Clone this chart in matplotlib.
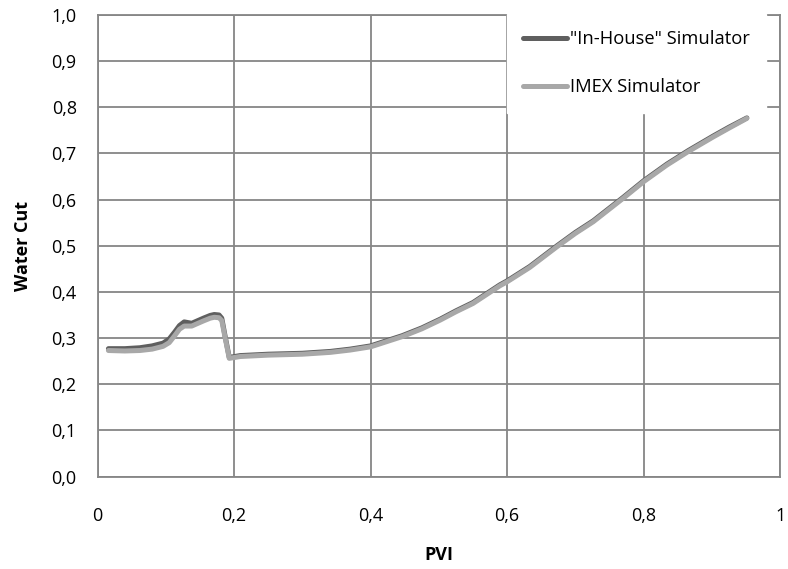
import matplotlib

matplotlib.use("Agg")
import matplotlib.pyplot as plt
from matplotlib.ticker import FuncFormatter

plt.rcParams["font.family"] = ["Open Sans", "DejaVu Sans"]

# PVI / water cut
pvi = [0.016, 0.04, 0.062, 0.08, 0.096, 0.105, 0.113, 0.12, 0.127, 0.138,
       0.155, 0.165, 0.171, 0.178, 0.182, 0.187, 0.193, 0.209, 0.25, 0.3,
       0.341, 0.37, 0.4, 0.446, 0.475, 0.502, 0.525, 0.55, 0.589, 0.6,
       0.633, 0.673, 0.7, 0.726, 0.77, 0.8, 0.834, 0.865, 0.902, 0.925, 0.951]
wc_inhouse = [0.277, 0.277, 0.279, 0.283, 0.289, 0.298, 0.313, 0.327, 0.335, 0.332,
              0.343, 0.349, 0.351, 0.35, 0.343, 0.303, 0.258, 0.262, 0.265, 0.267,
              0.271, 0.276, 0.283, 0.305, 0.322, 0.341, 0.359, 0.377, 0.415, 0.424,
              0.455, 0.5, 0.529, 0.554, 0.605, 0.641, 0.677, 0.706, 0.738, 0.757, 0.777]
wc_imex = [0.273, 0.272, 0.273, 0.276, 0.282, 0.29, 0.305, 0.319, 0.326, 0.326,
           0.337, 0.343, 0.345, 0.344, 0.338, 0.3, 0.256, 0.26, 0.263, 0.265,
           0.269, 0.274, 0.281, 0.303, 0.32, 0.339, 0.357, 0.375, 0.413, 0.422,
           0.453, 0.498, 0.527, 0.552, 0.603, 0.639, 0.675, 0.704, 0.736, 0.755, 0.776]

xticks = [0, 0.2, 0.4, 0.6, 0.8, 1.0]
yticks = [0.0, 0.1, 0.2, 0.3, 0.4, 0.5, 0.6, 0.7, 0.8, 0.9, 1.0]

grid_color = "#868686"

fig = plt.figure(figsize=(7.88, 5.69), dpi=100)
ax = fig.add_axes([97.5 / 788, (569 - 476.5) / 569, 682.8 / 788, 461.5 / 569])

ax.plot(pvi, wc_inhouse, color="#5f5f5f", lw=3.6, label='"In-House" Simulator',
        solid_capstyle="round", solid_joinstyle="round", zorder=3)
ax.plot(pvi, wc_imex, color="#a8a8a8", lw=3.6, label="IMEX Simulator",
        solid_capstyle="round", solid_joinstyle="round", zorder=4)

ax.set_xlim(0, 1)
ax.set_ylim(0, 1)
ax.set_xticks(xticks)
ax.set_yticks(yticks)
ax.xaxis.set_major_formatter(FuncFormatter(
    lambda v, p: "0" if v == 0 else ("1" if v == 1 else f"{v:.1f}".replace(".", ","))))
ax.yaxis.set_major_formatter(FuncFormatter(lambda v, p: f"{v:.1f}".replace(".", ",")))
ax.tick_params(axis="both", length=0, labelsize=13, colors="black")
ax.tick_params(axis="x", pad=22)
ax.tick_params(axis="y", pad=15)

ax.grid(True, color=grid_color, lw=1.3)
for s in ax.spines.values():
    s.set_color(grid_color)
    s.set_linewidth(1.3)

ax.set_xlabel("PVI", fontsize=13, fontweight="bold", labelpad=15)
ax.set_ylabel("Water Cut", fontsize=13, fontweight="bold", labelpad=14)

leg = ax.legend(loc="upper left", bbox_to_anchor=(0.600, 1.002), borderaxespad=0,
                fontsize=13.2, frameon=True, fancybox=False, handlelength=2.4,
                handletextpad=0.15, labelspacing=1.65, borderpad=0.88)
leg.get_frame().set_edgecolor("white")
leg.get_frame().set_facecolor("white")
leg.get_frame().set_alpha(1)
leg.set_zorder(5)

fig.savefig("out.png", dpi=100)
